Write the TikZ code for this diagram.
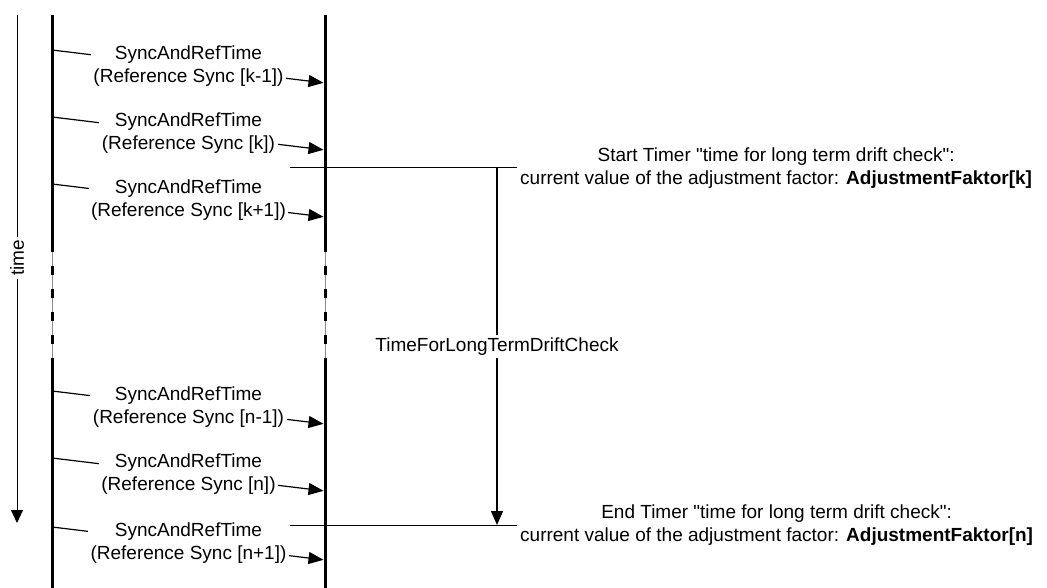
\documentclass[tikz,border=0pt]{standalone}
\usepackage{fontspec}
\setmainfont{Liberation Sans}[Ligatures=TeXOff]
\usetikzlibrary{arrows.meta}
\begin{document}
\begin{tikzpicture}[x=1pt,y=-1pt,
  txt/.style={font=\fontsize{19}{23}\selectfont},
  lifeline/.style={line width=3pt},
  gapline/.style={line width=3pt,dash pattern=on 9pt off 14pt,dash phase=9pt},
  guide/.style={line width=0.6pt,black!45},
  msg/.style={line width=1.2pt,-{Triangle[length=15pt,width=12pt]},shorten >=1.5pt},
  lbl/.style={txt,fill=white,inner sep=2.5pt,align=center},
  axis/.style={line width=1pt,-{Triangle[length=13pt,width=12pt]}},
  mark line/.style={line width=1pt},
  timer/.style={line width=1.4pt,-{Triangle[length=14pt,width=12pt]}},
  note/.style={txt,inner sep=3pt,align=center,anchor=west}]
\useasboundingbox[fill=white] (0,0) rectangle (1047,588);

% time axis
\coordinate (Ttop) at (17,15);
\coordinate (Tend) at (17,523);
\draw[axis] (Ttop) -- (Tend);
\node[txt,fill=white,inner sep=3pt,rotate=90] (tlabel) at (17,258) {time};

% lifelines with an elided middle part
\foreach \n/\x in {L/52,R/325}{
  \coordinate (\n top) at (\x,15);
  \coordinate (\n g1) at (\x,252);
  \coordinate (\n g2) at (\x,358);
  \coordinate (\n bot) at (\x,588);
  \draw[lifeline] (\n top) -- (\n g1);
  \draw[guide] (\n g1) -- (\n g2);
  \draw[gapline] (\n g1) -- (\n g2);
  \draw[lifeline] (\n g2) -- (\n bot);
}

% sync messages
\foreach \i/\y/\k in {1/50/k-1,2/117/k,3/184/k+1,4/391/n-1,5/458/n,6/527/n+1}{
  \coordinate (m\i s) at (52,\y);
  \coordinate (m\i e) at (325,\y+33);
  \draw[msg] (m\i s) -- node[lbl] (m\i l) {SyncAndRefTime\\(Reference Sync [\k])} (m\i e);
}

% timer start / end marks
\coordinate (tsL) at (290,168);
\coordinate (tsR) at (517,168);
\coordinate (teL) at (290,525);
\coordinate (teR) at (517,525);
\coordinate (tsA) at (497,168);
\coordinate (teA) at (497,525);
\draw[mark line] (tsL) -- (tsR);
\draw[mark line] (teL) -- (teR);
\draw[timer] (tsA) -- node[lbl] (drift) {TimeForLongTermDriftCheck} (teA);

\node[note] (startnote) at (tsR) {Start Timer "time for long term drift check":\\current value of the adjustment factor: \textbf{AdjustmentFaktor[k]}};
\node[note] (endnote) at (teR) {End Timer "time for long term drift check":\\current value of the adjustment factor: \textbf{AdjustmentFaktor[n]}};
\end{tikzpicture}
\end{document}
